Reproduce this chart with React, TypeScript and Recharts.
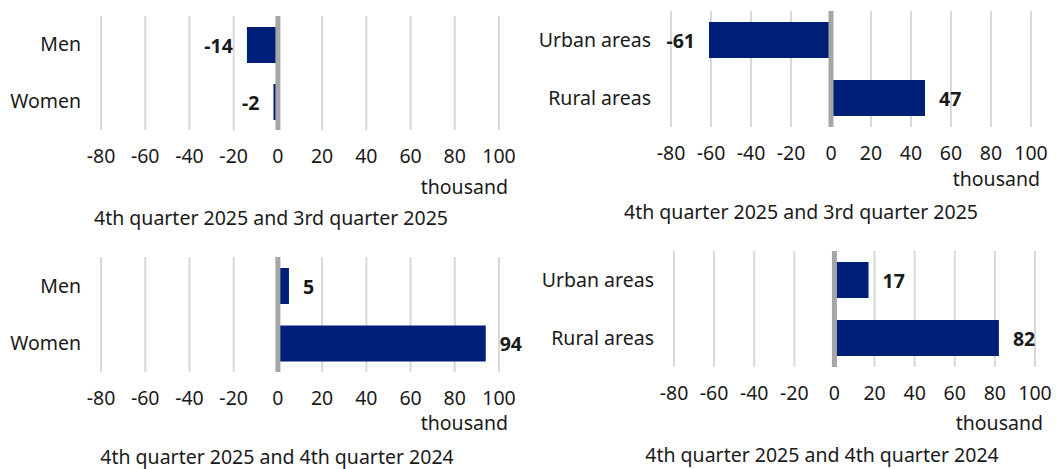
import React from "react";
import {
  BarChart,
  Bar,
  XAxis,
  YAxis,
  CartesianGrid,
  ReferenceLine,
  LabelList,
} from "recharts";

// categories
const genderCategories = ["Men", "Women"];
const areaCategories = ["Urban areas", "Rural areas"];

// change in thousands
const genderQuarterChange = [-14, -2];
const genderYearChange = [5, 94];
const areaQuarterChange = [-61, 47];
const areaYearChange = [17, 82];

const xTicks = [-80, -60, -40, -20, 0, 20, 40, 60, 80, 100];
const unitLabel = "thousand";
const quarterCaption = "4th quarter 2025 and 3rd quarter 2025";
const yearCaption = "4th quarter 2025 and 4th quarter 2024";

const BAR_COLOR = "#001f78";
const TEXT = "#1a1a1a";
const FONT = "'Noto Sans', sans-serif";
const FS = 19.5;

const renderValue = (props: any) => {
  const { x, y, width, height, value } = props;
  const a = Number(x);
  const b = Number(x) + Number(width);
  const left = Math.min(a, b);
  const right = Math.max(a, b);
  const neg = Number(value) < 0;
  return (
    <text
      x={neg ? left - 14 : right + 14}
      y={Number(y) + Number(height) / 2}
      textAnchor={neg ? "end" : "start"}
      dominantBaseline="central"
      fontWeight={700}
      fontSize={FS}
      fill={TEXT}
    >
      {value}
    </text>
  );
};

type PanelProps = {
  left: number;
  top: number;
  width: number;
  height: number;
  plot: { x0: number; x1: number; y0: number; y1: number };
  categories: string[];
  values: number[];
  unitPos: { right: number; y: number };
  caption: string;
  captionPos: { x: number; y: number };
};

function Panel({
  left,
  top,
  width,
  height,
  plot,
  categories,
  values,
  unitPos,
  caption,
  captionPos,
}: PanelProps) {
  const data = categories.map((name, i) => ({ name, value: values[i] }));
  const axisH = 40;
  const margin = {
    top: plot.y0 - top,
    right: left + width - plot.x1,
    bottom: top + height - plot.y1 - axisH,
    left: 0,
  };
  const yWidth = plot.x0 - left;
  return (
    <>
      <div style={{ position: "absolute", left, top }}>
        <BarChart
          width={width}
          height={height}
          data={data}
          layout="vertical"
          margin={margin}
        >
          <CartesianGrid
            horizontal={false}
            stroke="#d9d9d9"
            strokeWidth={2}
          />
          <XAxis
            type="number"
            domain={[-80, 100]}
            ticks={xTicks}
            interval={0}
            axisLine={false}
            tickLine={false}
            tickSize={0}
            tickMargin={19}
            height={axisH}
            tick={{ fontSize: FS, fill: TEXT }}
          />
          <YAxis
            type="category"
            dataKey="name"
            width={yWidth}
            axisLine={false}
            tickLine={false}
            tickSize={0}
            tickMargin={20}
            tick={{ fontSize: FS, fill: TEXT }}
          />
          <Bar
            dataKey="value"
            fill={BAR_COLOR}
            barSize={36}
            isAnimationActive={false}
          >
            <LabelList dataKey="value" content={renderValue} />
          </Bar>
          <ReferenceLine x={0} stroke="#a6a6a6" strokeWidth={5} />
        </BarChart>
      </div>
      <div
        style={{
          position: "absolute",
          right: 1060 - unitPos.right,
          top: unitPos.y,
          transform: "translateY(-50%)",
          fontSize: FS,
          color: TEXT,
          whiteSpace: "nowrap",
          lineHeight: 1,
        }}
      >
        {unitLabel}
      </div>
      <div
        style={{
          position: "absolute",
          left: captionPos.x,
          top: captionPos.y,
          transform: "translate(-50%, -50%)",
          fontSize: FS,
          color: TEXT,
          whiteSpace: "nowrap",
          lineHeight: 1,
        }}
      >
        {caption}
      </div>
    </>
  );
}

export default function App() {
  return (
    <div
      style={{
        position: "absolute",
        left: 0,
        top: 0,
        width: 1060,
        height: 469,
        background: "#fff",
        fontFamily: FONT,
        overflow: "hidden",
      }}
    >
      <Panel
        left={0}
        top={0}
        width={530}
        height={235}
        plot={{ x0: 101, x1: 499, y0: 16, y1: 130 }}
        categories={genderCategories}
        values={genderQuarterChange}
        unitPos={{ right: 508, y: 187 }}
        caption={quarterCaption}
        captionPos={{ x: 271, y: 218 }}
      />
      <Panel
        left={530}
        top={0}
        width={530}
        height={235}
        plot={{ x0: 671, x1: 1031, y0: 11, y1: 127 }}
        categories={areaCategories}
        values={areaQuarterChange}
        unitPos={{ right: 1040, y: 179 }}
        caption={quarterCaption}
        captionPos={{ x: 801, y: 212 }}
      />
      <Panel
        left={0}
        top={235}
        width={530}
        height={234}
        plot={{ x0: 101, x1: 499, y0: 257, y1: 372 }}
        categories={genderCategories}
        values={genderYearChange}
        unitPos={{ right: 508, y: 423 }}
        caption={yearCaption}
        captionPos={{ x: 277, y: 457 }}
      />
      <Panel
        left={530}
        top={235}
        width={530}
        height={234}
        plot={{ x0: 674, x1: 1035, y0: 251, y1: 367 }}
        categories={areaCategories}
        values={areaYearChange}
        unitPos={{ right: 1043, y: 423 }}
        caption={yearCaption}
        captionPos={{ x: 822, y: 455 }}
      />
    </div>
  );
}
